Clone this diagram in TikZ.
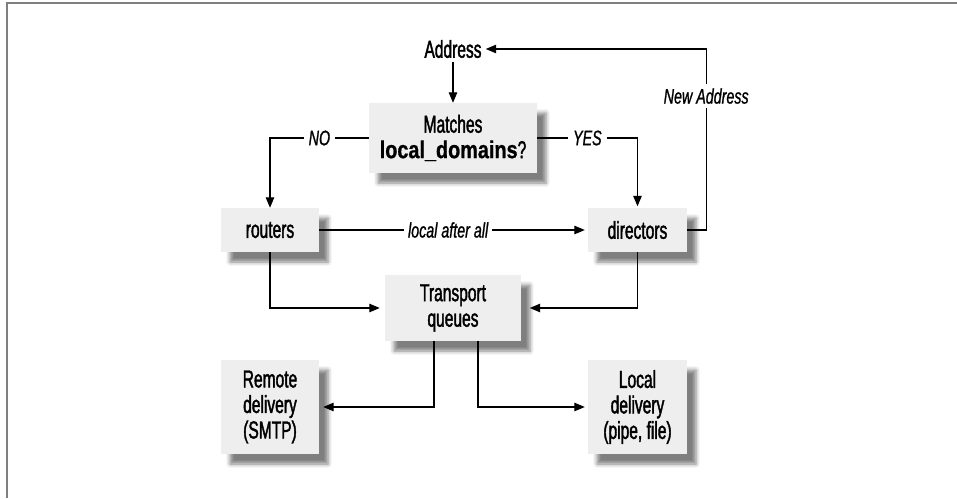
\documentclass[tikz,border=0pt]{standalone}
\usepackage{fontspec}
\setmainfont{Liberation Sans}[FakeStretch=0.635, FakeBold=1.6]
\newfontfamily\labelfont{Liberation Sans}[FakeStretch=0.68, FakeBold=1.0]
\newfontfamily\boldcondfont{Liberation Sans}[FakeStretch=0.81, FakeBold=0.8]
\usetikzlibrary{arrows.meta,shadows.blur}
\definecolor{boxgray}{HTML}{EEEEEE}
\definecolor{framegray}{HTML}{7F7F7F}

\begin{document}
\begin{tikzpicture}[x=1pt,y=-1pt,
  txt/.style={font=\fontsize{24.5}{25.5}\selectfont},
  box/.style={txt, fill=boxgray, inner sep=0pt, align=center,
    blur shadow={shadow xshift=9pt, shadow yshift=-10pt,
                 shadow blur radius=4pt, shadow opacity=50}},
  lbl/.style={font=\labelfont\itshape\fontsize{21}{22}\selectfont,
    fill=white, inner xsep=5pt, inner ysep=3pt},
  wire/.style={line width=1.2pt},
  conn/.style={wire, -{Triangle[length=10.5pt,width=8.5pt]}}
]
\useasboundingbox (0,0) rectangle (957,498);

% outer frame (top and left edges)
\draw[framegray, line width=2pt] (6.5,498) -- (6.5,3) -- (957,3);

% nodes
\node[txt, inner sep=4pt] (addr) at (453,49) {Address};
\node[box, minimum width=168pt, minimum height=70pt] (match) at (453,138)
  {Matches\\{\boldcondfont\bfseries local\_domains}?};
\node[box, minimum width=98pt, minimum height=44pt] (rout) at (270,230) {routers};
\node[box, minimum width=99pt, minimum height=44pt] (dir) at (637.5,230) {directors};
\node[box, minimum width=136pt, minimum height=66pt] (tq) at (453,308) {Transport\\queues};
\node[box, minimum width=98pt, minimum height=94pt] (rem) at (270,407) {Remote\\delivery\\(SMTP)};
\node[box, minimum width=99pt, minimum height=94pt] (loc) at (637.5,407) {Local\\delivery\\(pipe, file)};

% connectors
\draw[conn] (addr.south) -- (match.north);
\draw[conn] (match.west) -| node[lbl, pos=0.25] {NO} (rout.north);
\draw[conn, shorten >=1.5pt] (match.east) -| node[lbl, pos=0.25] {YES} (dir.north);
\draw[conn, shorten >=3pt] (rout.east) -- node[lbl, pos=0.48, inner xsep=4pt] {local after all} (dir.west);
\draw[conn] (dir.east) -- ++(19,0) |- node[lbl, pos=0.37, inner xsep=3pt, inner ysep=4pt] {New Address} (addr.east);
\draw[conn, shorten >=5pt] (rout.south) |- (tq.west);
\draw[conn, shorten >=8.5pt] (dir.south) |- (tq.east);
\draw[conn, shorten >=4pt] ([xshift=-19pt]tq.south) |- (rem.east);
\draw[conn, shorten >=3pt] ([xshift=25pt]tq.south) |- (loc.west);
\end{tikzpicture}
\end{document}
